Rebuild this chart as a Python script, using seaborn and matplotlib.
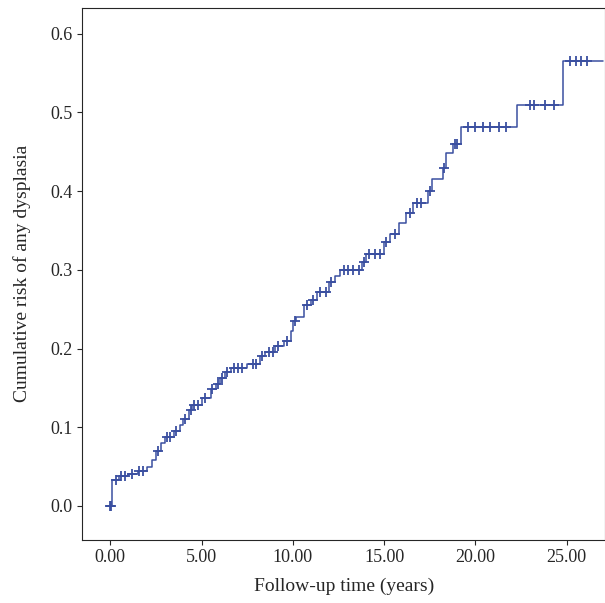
import matplotlib
matplotlib.use("Agg")
import matplotlib.pyplot as plt
import seaborn as sns
import numpy as np
import pandas as pd

event_times = [0, 0.1, 0.5, 1.0, 1.5, 2.0, 2.3, 2.5, 2.8, 3.0, 3.5, 3.8, 4.0, 4.3, 4.5, 5.0, 5.5, 5.8, 6.0, 6.3, 6.6,
               7.5, 8.2, 8.5, 9.0, 9.5, 9.9, 10.0, 10.2, 10.6, 11.0, 11.3, 12.0, 12.3, 12.6, 13.8, 14.0, 15.0,
               15.3, 15.8, 16.2, 16.6, 17.4, 17.6, 18.2, 18.4, 18.8, 19.2, 22.3, 24.8, 27.0]
risk = [0, 0.033, 0.038, 0.040, 0.044, 0.050, 0.058, 0.070, 0.080, 0.088, 0.095, 0.103, 0.110, 0.122, 0.128, 0.137,
        0.148, 0.155, 0.162, 0.170, 0.175, 0.180, 0.190, 0.195, 0.203, 0.210, 0.222, 0.235, 0.240, 0.255, 0.262,
        0.272, 0.285, 0.292, 0.300, 0.310, 0.320, 0.335, 0.345, 0.360, 0.372, 0.385, 0.400, 0.415, 0.430, 0.448,
        0.460, 0.482, 0.510, 0.565, 0.565]
censor_times = [0.0, 0.05, 0.3, 0.6, 0.8, 1.2, 1.6, 1.8, 2.6, 3.1, 3.3, 3.6, 4.1, 4.4, 4.6, 4.8, 5.2, 5.6, 5.9, 6.1,
                6.4, 6.8, 7.0, 7.2, 7.8, 8.0, 8.3, 8.7, 8.9, 9.2, 9.7, 10.1, 10.8, 11.1, 11.5, 11.8, 12.1, 12.8,
                13.0, 13.3, 13.6, 13.9, 14.2, 14.5, 14.8, 15.1, 15.6, 16.4, 16.8, 17.0, 17.5, 18.3, 18.9, 19.0,
                19.6, 20.0, 20.4, 20.8, 21.3, 21.7, 23.0, 23.2, 23.8, 24.3, 25.2, 25.5, 25.8, 26.1]

sns.set_style("ticks")
plt.rcParams['font.family'] = ['Liberation Serif', 'DejaVu Serif']
col = "#3a4fa0"
fig, ax = plt.subplots(figsize=(6.05, 6.03), dpi=100)
df = pd.DataFrame({"t": event_times, "r": risk})
sns.lineplot(data=df, x="t", y="r", drawstyle="steps-post", color=col, lw=1.1, ax=ax)
ct = np.array(censor_times)
idx = np.searchsorted(np.array(event_times), ct, side="right") - 1
cr = np.array(risk)[idx]
sns.scatterplot(x=ct, y=cr, marker="+", s=45, color=col, linewidth=1.3, ax=ax)
ax.set_xlim(-1.53, 27.1)
ax.set_ylim(-0.043, 0.633)
ax.set_xticks([0, 5, 10, 15, 20, 25])
ax.set_xticklabels(["0.00", "5.00", "10.00", "15.00", "20.00", "25.00"])
ax.set_yticks([0, 0.1, 0.2, 0.3, 0.4, 0.5, 0.6])
ax.set_yticklabels(["0.0", "0.1", "0.2", "0.3", "0.4", "0.5", "0.6"])
ax.tick_params(labelsize=13)
ax.set_xlabel("Follow-up time (years)", fontsize=14, labelpad=8)
ax.set_ylabel("Cumulative risk of any dysplasia", fontsize=14, labelpad=14)
for s in ax.spines.values():
    s.set_visible(True)
fig.subplots_adjust(left=0.136, right=1.0, top=0.987, bottom=0.105)
fig.savefig("out.png", dpi=100)
